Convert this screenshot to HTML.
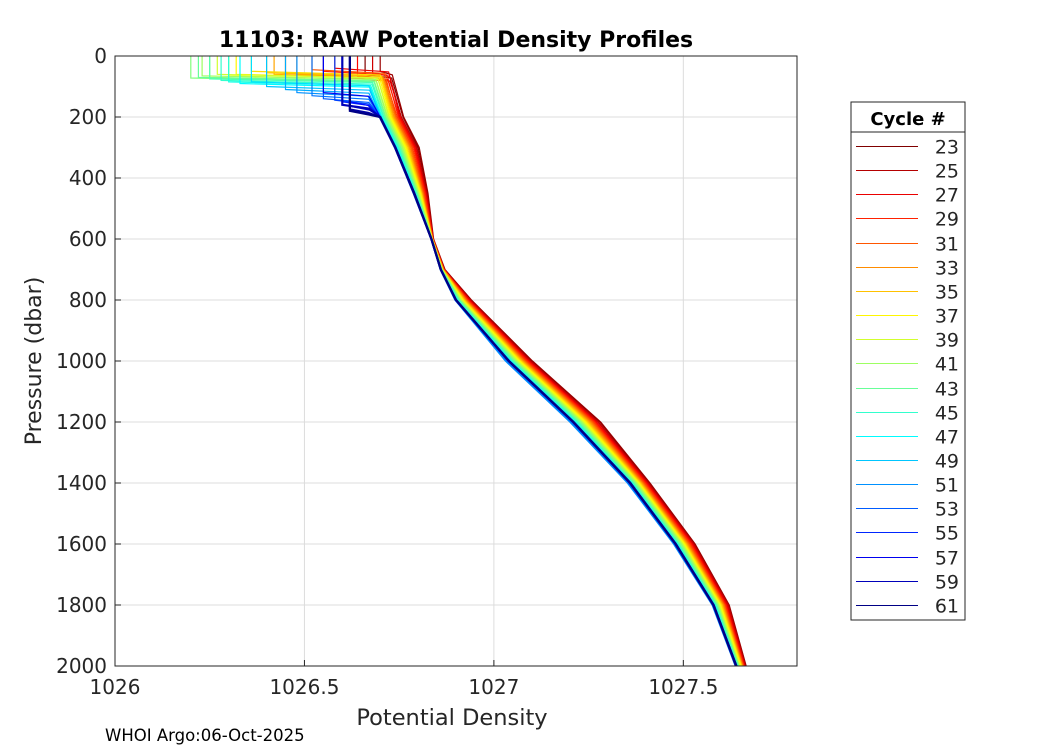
<!DOCTYPE html>
<html><head><meta charset="utf-8"><style>
body{margin:0;background:#fff;width:1050px;height:750px;overflow:hidden}
svg{font-family:"DejaVu Sans","Liberation Sans",sans-serif}
</style></head><body>
<svg id="chart" width="1050" height="750" xmlns="http://www.w3.org/2000/svg">
<rect width="1050" height="750" fill="#fff"/>
<g id="grid"></g>
<g id="lines"></g>
<g id="axes"></g>
<text x="456" y="47" text-anchor="middle" font-size="22" font-weight="bold" fill="#000">11103: RAW Potential Density Profiles</text>
<text x="452" y="725" text-anchor="middle" font-size="22.5" fill="#262626">Potential Density</text>
<text transform="translate(41,361) rotate(-90)" text-anchor="middle" font-size="22" fill="#262626">Pressure (dbar)</text>
<text x="105" y="741" font-size="16.5" fill="#000">WHOI Argo:06-Oct-2025</text>
<g id="legend"></g>
</svg>
<script>
const X0=1026, X1=1027.8, P0=0, P1=2000;
const L=115, R=797, T=56, B=666;
const xTicks=[1026,1026.5,1027,1027.5];
const xTickLabels=["1026","1026.5","1027","1027.5"];
const yTicks=[0,200,400,600,800,1000,1200,1400,1600,1800,2000];
const cycles=[23,24,25,26,27,28,29,30,31,32,33,34,35,36,37,38,39,40,41,42,43,44,45,46,47,48,49,50,51,52,53,54,55,56,57,58,59,60,61];
const surfDens=[1026.66,1026.70,1026.62,1026.68,1026.58,1026.64,1026.55,1026.60,1026.52,1026.48,1026.45,1026.42,1026.40,1026.36,1026.32,1026.30,1026.27,1026.25,1026.23,1026.20,1026.22,1026.25,1026.28,1026.30,1026.33,1026.36,1026.40,1026.45,1026.48,1026.52,1026.55,1026.58,1026.60,1026.62,1026.55,1026.62,1026.60,1026.62,1026.62];
const mixedDepth=[60,50,70,55,40,65,50,70,45,60,55,60,55,50,60,65,60,70,65,72,70,75,80,85,90,85,100,110,120,130,140,145,150,150,120,165,160,175,180];
const deepLevels=[200,300,450,600,700,800,1000,1200,1400,1600,1800,2000];
const deepDens=[
[1026.760,1026.800,1026.825,1026.840,1026.870,1026.940,1027.100,1027.280,1027.410,1027.530,1027.620,1027.665],
[1026.762,1026.803,1026.826,1026.841,1026.871,1026.941,1027.102,1027.282,1027.412,1027.531,1027.621,1027.666],
[1026.756,1026.797,1026.823,1026.840,1026.869,1026.938,1027.097,1027.276,1027.408,1027.528,1027.619,1027.664],
[1026.755,1026.795,1026.822,1026.840,1026.869,1026.937,1027.095,1027.274,1027.406,1027.526,1027.617,1027.663],
[1026.752,1026.792,1026.820,1026.839,1026.868,1026.935,1027.092,1027.270,1027.404,1027.524,1027.615,1027.662],
[1026.750,1026.790,1026.819,1026.839,1026.868,1026.933,1027.090,1027.268,1027.402,1027.522,1027.613,1027.661],
[1026.748,1026.788,1026.818,1026.839,1026.868,1026.932,1027.088,1027.266,1027.400,1027.520,1027.612,1027.660],
[1026.745,1026.785,1026.816,1026.839,1026.868,1026.930,1027.085,1027.263,1027.398,1027.518,1027.610,1027.659],
[1026.742,1026.782,1026.814,1026.838,1026.867,1026.928,1027.082,1027.260,1027.395,1027.515,1027.608,1027.658],
[1026.740,1026.780,1026.813,1026.838,1026.867,1026.927,1027.080,1027.257,1027.393,1027.513,1027.607,1027.657],
[1026.737,1026.777,1026.811,1026.838,1026.866,1026.925,1027.077,1027.254,1027.391,1027.511,1027.605,1027.656],
[1026.735,1026.775,1026.810,1026.838,1026.866,1026.923,1027.075,1027.251,1027.389,1027.509,1027.603,1027.655],
[1026.733,1026.773,1026.809,1026.838,1026.865,1026.922,1027.073,1027.248,1027.387,1027.507,1027.602,1027.654],
[1026.730,1026.770,1026.808,1026.838,1026.865,1026.920,1027.070,1027.245,1027.385,1027.505,1027.600,1027.653],
[1026.728,1026.768,1026.806,1026.837,1026.864,1026.918,1027.068,1027.242,1027.383,1027.503,1027.598,1027.652],
[1026.725,1026.765,1026.805,1026.837,1026.864,1026.917,1027.065,1027.239,1027.381,1027.501,1027.597,1027.650],
[1026.723,1026.763,1026.803,1026.837,1026.863,1026.915,1027.063,1027.236,1027.379,1027.499,1027.595,1027.649],
[1026.720,1026.760,1026.802,1026.837,1026.863,1026.913,1027.060,1027.233,1027.377,1027.497,1027.593,1027.648],
[1026.718,1026.758,1026.800,1026.836,1026.863,1026.912,1027.058,1027.231,1027.375,1027.495,1027.592,1027.647],
[1026.715,1026.755,1026.799,1026.836,1026.863,1026.910,1027.055,1027.228,1027.373,1027.493,1027.590,1027.646],
[1026.713,1026.753,1026.797,1026.836,1026.862,1026.908,1027.053,1027.225,1027.370,1027.490,1027.588,1027.645],
[1026.710,1026.750,1026.796,1026.836,1026.862,1026.907,1027.050,1027.222,1027.368,1027.488,1027.587,1027.644],
[1026.708,1026.748,1026.794,1026.835,1026.861,1026.905,1027.048,1027.219,1027.366,1027.486,1027.585,1027.643],
[1026.705,1026.745,1026.793,1026.835,1026.861,1026.903,1027.045,1027.216,1027.364,1027.484,1027.583,1027.642],
[1026.703,1026.743,1026.791,1026.835,1026.860,1026.902,1027.043,1027.213,1027.362,1027.482,1027.582,1027.641],
[1026.700,1026.740,1026.790,1026.835,1026.860,1026.900,1027.040,1027.210,1027.360,1027.480,1027.580,1027.640],
[1026.702,1026.742,1026.789,1026.834,1026.859,1026.899,1027.035,1027.205,1027.356,1027.477,1027.578,1027.639],
[1026.700,1026.740,1026.788,1026.834,1026.859,1026.898,1027.032,1027.202,1027.354,1027.475,1027.577,1027.638],
[1026.698,1026.738,1026.787,1026.834,1026.858,1026.897,1027.030,1027.200,1027.352,1027.474,1027.576,1027.637],
[1026.700,1026.740,1026.788,1026.834,1026.859,1026.898,1027.034,1027.204,1027.355,1027.476,1027.577,1027.638],
[1026.700,1026.740,1026.790,1026.835,1026.860,1026.900,1027.040,1027.210,1027.360,1027.480,1027.580,1027.640],
[1026.699,1026.739,1026.789,1026.835,1026.860,1026.899,1027.038,1027.208,1027.358,1027.479,1027.579,1027.639],
[1026.700,1026.740,1026.790,1026.835,1026.860,1026.900,1027.040,1027.210,1027.360,1027.480,1027.580,1027.640],
[1026.698,1026.738,1026.788,1026.834,1026.859,1026.898,1027.037,1027.207,1027.357,1027.478,1027.579,1027.639],
[1026.700,1026.740,1026.790,1026.835,1026.860,1026.900,1027.040,1027.210,1027.360,1027.480,1027.580,1027.640],
[1026.701,1026.741,1026.791,1026.835,1026.860,1026.901,1027.041,1027.211,1027.361,1027.481,1027.581,1027.641],
[1026.700,1026.740,1026.790,1026.835,1026.860,1026.900,1027.040,1027.210,1027.360,1027.480,1027.580,1027.640],
[1026.699,1026.739,1026.789,1026.835,1026.860,1026.900,1027.039,1027.209,1027.359,1027.479,1027.579,1027.639],
[1026.700,1026.740,1026.790,1026.835,1026.860,1026.900,1027.040,1027.210,1027.360,1027.480,1027.580,1027.640]
];
const legendCycles=[23,25,27,29,31,33,35,37,39,41,43,45,47,49,51,53,55,57,59,61];

const NS="http://www.w3.org/2000/svg";
function xS(v){return L+(v-X0)/(X1-X0)*(R-L);}
function yS(p){return T+(p-P0)/(P1-P0)*(B-T);}
function mk(tag,attrs,parent){const e=document.createElementNS(NS,tag);for(const k in attrs)e.setAttribute(k,attrs[k]);parent.appendChild(e);return e;}
function jet(t){const c=v=>Math.round(255*Math.max(0,Math.min(1,v)));
 const r=1.5-Math.abs(4*t-3),g=1.5-Math.abs(4*t-2),b=1.5-Math.abs(4*t-1);return `rgb(${c(r)},${c(g)},${c(b)})`;}
function colorFor(cyc){const t=1-(cyc-cycles[0])/(cycles[cycles.length-1]-cycles[0]);return jet(t*0.995+0.005);}

const grid=document.getElementById('grid'),axes=document.getElementById('axes'),lines=document.getElementById('lines'),leg=document.getElementById('legend');
xTicks.forEach((v,i)=>{
 const g=mk('line',{x1:xS(v),x2:xS(v),y1:T,y2:B,stroke:'#dcdcdc','stroke-width':1},grid);
 
 
 const tk=mk('line',{x1:xS(v),x2:xS(v),y1:B,y2:B-6,stroke:'#262626'},axes);
 
 
 const t=mk('text',{x:xS(v),y:B+28,'text-anchor':'middle','font-size':20,fill:'#262626'},axes);
 t.textContent=xTickLabels[i];
 
 
});
yTicks.forEach(v=>{
 const g=mk('line',{x1:L,x2:R,y1:yS(v),y2:yS(v),stroke:'#dcdcdc','stroke-width':1},grid);
 
 
 const tk=mk('line',{x1:L,x2:L+6,y1:yS(v),y2:yS(v),stroke:'#262626'},axes);
 
 
 const t=mk('text',{x:L-8,y:yS(v)+7,'text-anchor':'end','font-size':20,fill:'#262626'},axes);
 t.textContent=String(v);
 
 
});
const box=mk('rect',{x:L,y:T,width:R-L,height:B-T,fill:'none',stroke:'#262626','stroke-width':1},axes);



cycles.forEach((cyc,i)=>{
 const pts=[[surfDens[i],0],[surfDens[i],mixedDepth[i]]];
 const nextP=Math.min(mixedDepth[i]+12,195);
 pts.push([deepDens[i][0]-0.03,nextP]);
 deepLevels.forEach((p,j)=>pts.push([deepDens[i][j],p]));
 const d=pts.map((q,k)=>(k?'L':'M')+xS(q[0]).toFixed(1)+','+yS(q[1]).toFixed(1)).join(' ');
 const path=mk('path',{d:d,fill:'none',stroke:colorFor(cyc),'stroke-width':cyc>=59?2.2:1.2},lines);
 
 
});

const lx=851,ly=102,lw=114,lh=518;
const lb=mk('rect',{x:lx,y:ly,width:lw,height:lh,fill:'#fff',stroke:'#262626'},leg);


const hl=mk('line',{x1:lx,x2:lx+lw,y1:ly+30,y2:ly+30,stroke:'#262626'},leg);


const ht=mk('text',{x:lx+lw/2,y:ly+23,'text-anchor':'middle','font-size':18,'font-weight':'bold',fill:'#000'},leg);
ht.textContent='Cycle #';


legendCycles.forEach((cyc,i)=>{
 const y=Math.round(ly+44+i*24.15)+0.5;
 const ln=mk('line',{x1:856,x2:918,y1:y,y2:y,stroke:colorFor(cyc),'stroke-width':1},leg);
 
 
 const t=mk('text',{x:959,y:y+7,'text-anchor':'end','font-size':19,fill:'#262626'},leg);
 t.textContent=String(cyc);
 
 
});
</script>
</body></html>
